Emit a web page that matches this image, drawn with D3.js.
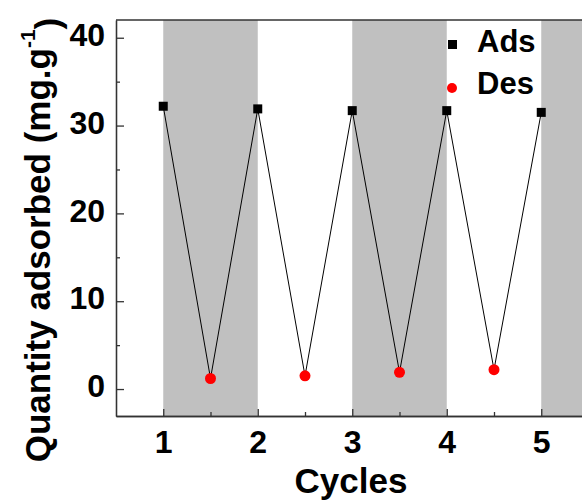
<!DOCTYPE html>
<html>
<head>
<meta charset="utf-8">
<script src="https://cdn.jsdelivr.net/npm/d3@7"></script>
<style>
  body { margin: 0; background: #fff; }
  svg { display: block; font-family: Arial, "Liberation Sans", sans-serif; }
</style>
</head>
<body>
<svg></svg>
<script>
// Adsorption values at each full cycle
let adsCycles = [1, 2, 3, 4, 5];
let adsValues = [32.2, 31.9, 31.7, 31.7, 31.5];

// Desorption values at each half cycle
let desCycles = [1.5, 2.5, 3.5, 4.5];
let desValues = [1.2, 1.5, 1.9, 2.2];

// Shaded cycle bands (start, end)
let bandStarts = [1, 3, 5];
let bandEnds = [2, 4, 6];

// Tick values
let xTicks = [1, 2, 3, 4, 5];
let xMinorTicks = [1.5, 2.5, 3.5, 4.5, 5.5];
let yTicks = [0, 10, 20, 30, 40];
let yMinorTicks = [5, 15, 25, 35];

// Canvas size and plot box
let width = 582;
let height = 503;
let plotLeft = 116;
let plotRight = 588.5;
let plotTop = 20;
let plotBottom = 416;

let svg = d3.select('svg')
    .attr('width', width)
    .attr('height', height);

// Scales
let xScale = d3.scaleLinear().domain([0.5, 5.5]).range([plotLeft, plotRight]);
let yScale = d3.scaleLinear().domain([-3.07, 42.02]).range([plotBottom, plotTop]);

// Gray bands
svg.append('clipPath').attr('id', 'clip')
    .append('rect')
    .attr('x', plotLeft).attr('y', plotTop)
    .attr('width', plotRight - plotLeft).attr('height', plotBottom - plotTop);

svg.append('g')
    .attr('clip-path', 'url(#clip)')
    .selectAll('rect')
    .data(bandStarts)
    .enter()
    .append('rect')
    .attr('x', (d) => xScale(d))
    .attr('y', plotTop)
    .attr('width', (d, i) => xScale(bandEnds[i]) - xScale(d))
    .attr('height', plotBottom - plotTop)
    .attr('fill', '#c0c0c0');

// Connecting line: ads, des, ads, des ...
let points = [];
adsCycles.forEach((c, i) => {
    points.push([c, adsValues[i]]);
    if (i < desCycles.length) {
        points.push([desCycles[i], desValues[i]]);
    }
});

let line = d3.line()
    .x((d) => xScale(d[0]))
    .y((d) => yScale(d[1]));

svg.append('path')
    .datum(points)
    .attr('d', line)
    .attr('fill', 'none')
    .attr('stroke', '#000')
    .attr('stroke-width', 1);

// Axes (ticks point inward)
let axisColor = '#333';

let yAxis = d3.axisLeft(yScale)
    .tickValues(yTicks)
    .tickSizeInner(-8)
    .tickSizeOuter(0)
    .tickPadding(11)
    .tickFormat(d3.format('d'));

let yMinor = d3.axisLeft(yScale)
    .tickValues(yMinorTicks)
    .tickSizeInner(-4)
    .tickSizeOuter(0)
    .tickFormat('');

let xAxis = d3.axisBottom(xScale)
    .tickValues(xTicks)
    .tickSizeInner(-7)
    .tickSizeOuter(0)
    .tickPadding(14)
    .tickFormat(d3.format('d'));

let xMinor = d3.axisBottom(xScale)
    .tickValues(xMinorTicks)
    .tickSizeInner(-4)
    .tickSizeOuter(0)
    .tickFormat('');

let styleAxis = (g) => {
    g.selectAll('path, line').attr('stroke', axisColor).attr('stroke-width', 1.3);
    g.selectAll('text')
        .attr('fill', '#000')
        .style('font-size', '32px')
        .style('font-weight', 'bold');
};

svg.append('g')
    .attr('transform', 'translate(' + plotLeft + ',0)')
    .call(yMinor)
    .call(styleAxis);

svg.append('g')
    .attr('transform', 'translate(' + plotLeft + ',0)')
    .call(yAxis)
    .call(styleAxis)
    .selectAll('text')
    .attr('dy', '0.24em');

svg.append('g')
    .attr('transform', 'translate(0,' + plotBottom + ')')
    .call(xMinor)
    .call(styleAxis);

svg.append('g')
    .attr('transform', 'translate(0,' + plotBottom + ')')
    .call(xAxis)
    .call(styleAxis);

// Top border
svg.append('line')
    .attr('x1', plotLeft).attr('x2', plotRight)
    .attr('y1', plotTop).attr('y2', plotTop)
    .attr('stroke', axisColor)
    .attr('stroke-width', 1.3);

// Markers
svg.selectAll('rect.ads')
    .data(adsCycles)
    .enter()
    .append('rect')
    .attr('class', 'ads')
    .attr('x', (d) => xScale(d) - 4.5)
    .attr('y', (d, i) => yScale(adsValues[i]) - 4.5)
    .attr('width', 9)
    .attr('height', 9)
    .attr('fill', '#000');

svg.selectAll('circle.des')
    .data(desCycles)
    .enter()
    .append('circle')
    .attr('class', 'des')
    .attr('cx', (d) => xScale(d))
    .attr('cy', (d, i) => yScale(desValues[i]))
    .attr('r', 5.5)
    .attr('fill', '#ff0000');

// Legend
let legend = svg.append('g');
legend.append('rect')
    .attr('x', 448).attr('y', 40)
    .attr('width', 9).attr('height', 9)
    .attr('fill', '#000');
legend.append('text')
    .attr('x', 477).attr('y', 52)
    .style('font-size', '31px').style('font-weight', 'bold')
    .text('Ads');
legend.append('circle')
    .attr('cx', 452).attr('cy', 88)
    .attr('r', 5)
    .attr('fill', '#ff0000');
legend.append('text')
    .attr('x', 477).attr('y', 94)
    .style('font-size', '31px').style('font-weight', 'bold')
    .text('Des');

// Axis titles
svg.append('text')
    .attr('x', 351).attr('y', 493)
    .attr('text-anchor', 'middle')
    .style('font-size', '35px').style('font-weight', 'bold')
    .text('Cycles');

let yTitle = svg.append('text')
    .attr('transform', 'translate(50,240) rotate(-90)')
    .attr('text-anchor', 'middle')
    .style('font-size', '35px').style('font-weight', 'bold');
yTitle.append('tspan').text('Quantity adsorbed (mg.g');
yTitle.append('tspan')
    .attr('dy', '-0.7em')
    .style('font-size', '21px')
    .text('-1');
yTitle.append('tspan')
    .attr('dy', '0.7em')
    .text(')');
</script>
</body>
</html>
